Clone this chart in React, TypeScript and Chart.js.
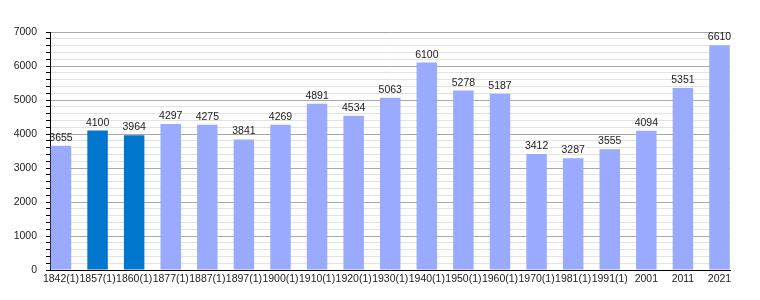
import React, { useEffect, useRef } from "react";
import { Chart, registerables } from "chart.js";

Chart.register(...registerables);

const categories = [
  "1842(1)", "1857(1)", "1860(1)", "1877(1)", "1887(1)", "1897(1)", "1900(1)",
  "1910(1)", "1920(1)", "1930(1)", "1940(1)", "1950(1)", "1960(1)", "1970(1)",
  "1981(1)", "1991(1)", "2001", "2011", "2021",
];
const population = [
  3655, 4100, 3964, 4297, 4275, 3841, 4269, 4891, 4534, 5063, 6100, 5278,
  5187, 3412, 3287, 3555, 4094, 5351, 6610,
];
const highlighted = ["1857(1)", "1860(1)"];
const yMax = 7000;
const yMajorStep = 1000;
const yMinorStep = 200;

const LIGHT = "#99aaff";
const DARK = "#0077cc";
const FONT = "'Liberation Sans', Arial, sans-serif";

const valueLabels = {
  id: "valueLabels",
  afterDatasetsDraw(chart: any) {
    const ctx = chart.ctx;
    const meta = chart.getDatasetMeta(0);
    ctx.save();
    ctx.font = `10.5px ${FONT}`;
    ctx.fillStyle = "#222";
    ctx.textAlign = "center";
    ctx.textBaseline = "alphabetic";
    meta.data.forEach((el: any, i: number) => {
      ctx.fillText(String(population[i]), el.x, el.y - 5);
    });
    ctx.restore();
  },
};

export default function App() {
  const ref = useRef<HTMLCanvasElement>(null);
  useEffect(() => {
    if (!ref.current) return;
    const chart = new Chart(ref.current, {
      type: "bar",
      data: {
        datasets: [
          {
            data: population.map((v, i) => ({ x: i, y: v })),
            backgroundColor: categories.map((c) =>
              highlighted.includes(c) ? DARK : LIGHT
            ),
            barPercentage: 0.56,
            categoryPercentage: 1,
          },
        ],
      },
      options: {
        responsive: false,
        animation: false,
        layout: { padding: { top: 32, right: 30, left: 0, bottom: 0 } },
        plugins: { legend: { display: false }, tooltip: { enabled: false } },
        scales: {
          x: {
            type: "linear",
            offset: false,
            min: -0.3,
            max: categories.length - 1 + 0.287,
            afterBuildTicks: (s: any) => {
              s.ticks = categories.map((_, i) => ({ value: i }));
            },
            afterFit: (s: any) => {
              s.height = 30;
            },
            grid: { display: false, drawTicks: false },
            border: { display: true, color: "#000", width: 1 },
            ticks: {
              autoSkip: false,
              maxRotation: 0,
              padding: 3,
              color: "#222",
              font: { size: 10.5, family: FONT },
              callback: (v: any) => categories[Math.round(Number(v))] ?? "",
            },
          },
          y: {
            min: 0,
            max: yMax,
            afterFit: (s: any) => {
              s.width = 50;
            },
            border: { display: true, color: "#000", width: 1 },
            grid: {
              color: (c: any) =>
                c.tick && c.tick.value % yMajorStep === 0 ? "#a8a8a8" : "#e2e2e2",
              tickColor: "#000",
              tickLength: 4,
            },
            ticks: {
              stepSize: yMinorStep,
              autoSkip: false,
              padding: 9,
              color: "#222",
              font: { size: 10.5, family: FONT },
              callback: (v: any) => (Number(v) % yMajorStep === 0 ? String(v) : ""),
            },
          },
        },
      },
      plugins: [valueLabels],
    });
    return () => chart.destroy();
  }, []);
  return (
    <div style={{ position: "absolute", left: 0, top: 0, width: 760, height: 300, background: "#fff" }}>
      <canvas ref={ref} width={760} height={300} />
    </div>
  );
}
